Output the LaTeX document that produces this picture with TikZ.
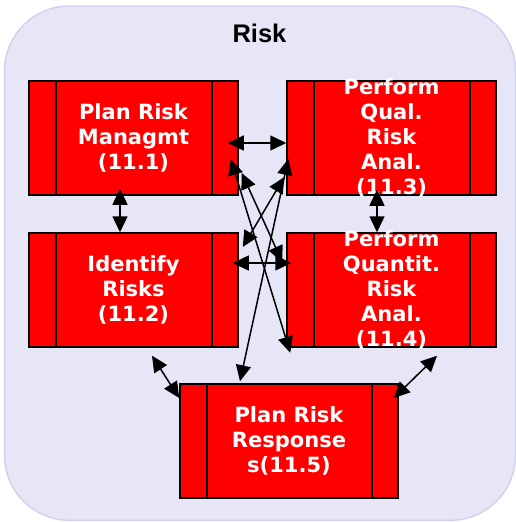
\documentclass[tikz,border=0pt]{standalone}
\usepackage{fontspec}
\newfontfamily\boxfont{DejaVu Sans}
\newfontfamily\titlefont{Liberation Sans}
\usetikzlibrary{arrows.meta}
\definecolor{lav}{HTML}{E6E6F7}
\definecolor{lavborder}{HTML}{D2D2F0}
\definecolor{procred}{HTML}{FF0000}
\tikzset{
  proc/.style={draw=black, fill=procred, line width=1.5pt, inner sep=0pt,
    minimum height=114pt,
    path picture={
      \draw[line width=1.5pt] ([xshift=27pt]path picture bounding box.north west) -- ([xshift=27pt]path picture bounding box.south west);
      \draw[line width=1.5pt] ([xshift=-26pt]path picture bounding box.north east) -- ([xshift=-26pt]path picture bounding box.south east);
    }},
  boxtext/.style={text=white, align=center, inner sep=0pt,
    font=\boxfont\bfseries\fontsize{21}{25}\selectfont},
  conn/.style={line width=1.5pt, >={Triangle[length=16pt,width=15pt]}, <->},
}
\begin{document}
\begin{tikzpicture}[x=1pt,y=-1pt]
\useasboundingbox (0,0) rectangle (516,522);
\draw[fill=lav, draw=lavborder, line width=1.5pt, rounded corners=65pt] (4.5,6) rectangle (515.5,520.3);
\node[anchor=base, font=\titlefont\bfseries\fontsize{25.5}{30}\selectfont] (title) at (259.5,42) {Risk};

\node[proc, minimum width=209pt] (b1) at (133.5,138) {};
\node[proc, minimum width=209pt] (b2) at (133.5,290) {};
\node[proc, minimum width=209pt] (b3) at (391.5,138) {};
\node[proc, minimum width=209pt] (b4) at (391.5,290) {};
\node[proc, minimum width=218pt] (b5) at (289,441) {};

\node[boxtext] (t1) at (b1) {Plan Risk\\Managmt\\(11.1)};
\node[boxtext] (t2) at (b2) {Identify\\Risks\\(11.2)};
\node[boxtext] (t3) at (b3) {Perform\\Qual.\\Risk\\Anal.\\(11.3)};
\node[boxtext] (t4) at (b4) {Perform\\Quantit.\\Risk\\Anal.\\(11.4)};
\node[boxtext] (t5) at (b5) {Plan Risk\\Response\\s(11.5)};

\draw[conn] ([shift={(-11,5)}]b1.east) -- ([shift={(0,5)}]b3.west);
\draw[conn] ([shift={(-13.5,-7)}]b1.south) -- ([shift={(-13.5,0)}]b2.north);
\draw[conn] ([shift={(-14.5,-6)}]b3.south) -- ([shift={(-14.5,0)}]b4.north);
\draw[conn] ([shift={(-6,-27)}]b2.east) -- ([shift={(5,-27)}]b4.west);
\draw[conn] ([shift={(-8,21)}]b1.east) -- ([shift={(4,5)}]b4.south west);
\draw[conn] ([shift={(3,35)}]b1.east) -- ([shift={(-4,-28)}]b4.west);
\draw[conn] ([shift={(-2,39)}]b3.west) -- ([shift={(4,-43)}]b2.east);
\draw[conn] ([shift={(2,21)}]b3.west) -- ([shift={(-49,-2)}]b5.north);
\draw[conn] ([shift={(18.5,8)}]b2.south) -- ([shift={(0,-43)}]b5.west);
\draw[conn] ([shift={(45.5,8)}]b4.south) -- ([shift={(-5,-43)}]b5.east);
\end{tikzpicture}
\end{document}
